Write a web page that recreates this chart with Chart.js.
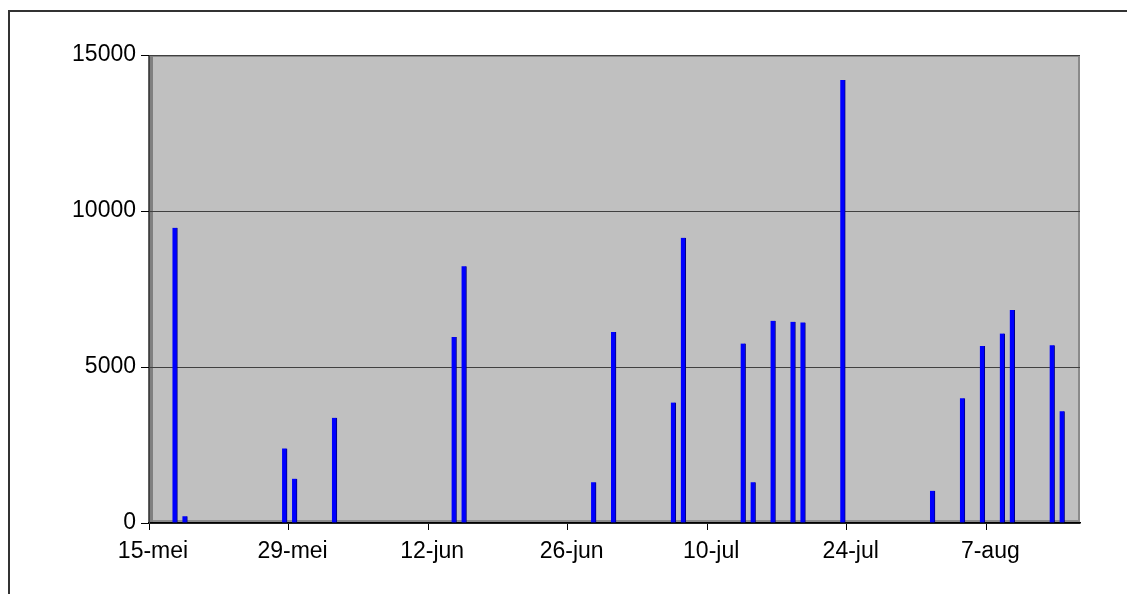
<!DOCTYPE html>
<html>
<head>
<meta charset="utf-8">
<script src="https://cdn.jsdelivr.net/npm/chart.js@4/dist/chart.umd.min.js"></script>
<style>
  html, body { margin: 0; padding: 0; background: #fff; overflow: hidden; }
  #kader { position: absolute; left: 8px; top: 10px; width: 1300px; height: 800px;
           border-left: 2px solid #333; border-top: 2px solid #333; }
  #wrap { position: absolute; left: 0; top: 0; width: 1127px; height: 594px; }
</style>
</head>
<body>
<div id="kader"></div>
<div id="wrap"><canvas id="grafiek" width="1127" height="594"></canvas></div>
<script>
// gegevens
const startDatum = '2006-05-15';
const datums = ['2006-05-17', '2006-05-18', '2006-05-28', '2006-05-29', '2006-06-02',
                '2006-06-14', '2006-06-15', '2006-06-28', '2006-06-30', '2006-07-06',
                '2006-07-07', '2006-07-13', '2006-07-14', '2006-07-16', '2006-07-18',
                '2006-07-19', '2006-07-23', '2006-08-01', '2006-08-04', '2006-08-06',
                '2006-08-08', '2006-08-09', '2006-08-13', '2006-08-14'];
const waarden = [9460, 220, 2390, 1420, 3370,
                 5960, 8230, 1310, 6120, 3860,
                 9140, 5750, 1310, 6480, 6450,
                 6430, 14200, 1030, 4000, 5670,
                 6070, 6830, 5700, 3580];
const tickDatums = ['2006-05-15', '2006-05-29', '2006-06-12', '2006-06-26',
                    '2006-07-10', '2006-07-24', '2006-08-07'];
const tickLabels = ['15-mei', '29-mei', '12-jun', '26-jun', '10-jul', '24-jul', '7-aug'];
const yTicks = [0, 5000, 10000, 15000];

const DAG = 86400000;
const dagNr = d => (Date.parse(d) - Date.parse(startDatum)) / DAG;

// staaf midden in het vakje van de dag
const punten = datums.map((d, i) => ({ x: dagNr(d) + 0.6, y: waarden[i] }));
const tickPos = tickDatums.map(dagNr);

// grijze "3D" achtergrond van het plotgebied
const achtergrond = {
    id: 'achtergrond',
    beforeDraw(chart) {
        const { ctx, chartArea: a } = chart;
        ctx.save();
        ctx.fillStyle = '#C0C0C0';
        ctx.fillRect(a.left, a.top, a.right - a.left, a.bottom - a.top);
        ctx.fillStyle = '#8a8a8a';
        ctx.fillRect(a.left, a.top, a.right - a.left, 2);          // boven
        ctx.fillRect(a.right - 2, a.top, 2, a.bottom - a.top);      // rechts
        ctx.fillRect(a.left, a.bottom - 3, a.right - a.left, 3);    // vloer
        ctx.fillStyle = '#808080';
        ctx.fillRect(a.left, a.top, 4, a.bottom - a.top);           // linkerwand
        ctx.fillStyle = '#606060';
        ctx.fillRect(a.left - 1, a.top, 2, a.bottom - a.top);
        ctx.restore();
    }
};

new Chart(document.getElementById('grafiek'), {
    type: 'bar',
    data: {
        datasets: [{
            data: punten,
            backgroundColor: '#0000FF',
            borderColor: '#000080',
            borderWidth: { top: 0, right: 1, bottom: 0, left: 0 },
            borderSkipped: false,
            barThickness: 5
        }]
    },
    plugins: [achtergrond],
    options: {
        responsive: false,
        animation: false,
        layout: { padding: { left: 0, top: 55, right: 47, bottom: 0 } },
        plugins: { legend: { display: false }, tooltip: { enabled: false } },
        scales: {
            x: {
                type: 'linear',
                min: 0,
                max: 93.4,
                offset: false,
                afterBuildTicks: s => { s.ticks = tickPos.map(v => ({ value: v })); },
                afterFit: s => { s.height = 71; },
                grid: { offset: false, drawOnChartArea: false, drawTicks: true, tickLength: 7, tickColor: '#000' },
                border: { display: true, color: '#000', width: 1.5 },
                ticks: {
                    autoSkip: false,
                    maxRotation: 0,
                    padding: 8,
                    labelOffset: 4,
                    color: '#000',
                    font: { family: 'Liberation Sans, Arial, sans-serif', size: 23 },
                    callback: v => tickLabels[tickPos.indexOf(v)]
                }
            },
            y: {
                min: 0,
                max: 15000,
                afterBuildTicks: s => { s.ticks = yTicks.map(v => ({ value: v })); },
                afterFit: s => { s.width = 149; },
                grid: { color: '#404040', lineWidth: 1, drawTicks: true, tickLength: 8, tickColor: '#000' },
                border: { display: true, color: '#404040', width: 1 },
                ticks: {
                    padding: 5,
                    color: '#000',
                    font: { family: 'Liberation Sans, Arial, sans-serif', size: 23 },
                    callback: v => String(v)
                }
            }
        }
    }
});
</script>
</body>
</html>
